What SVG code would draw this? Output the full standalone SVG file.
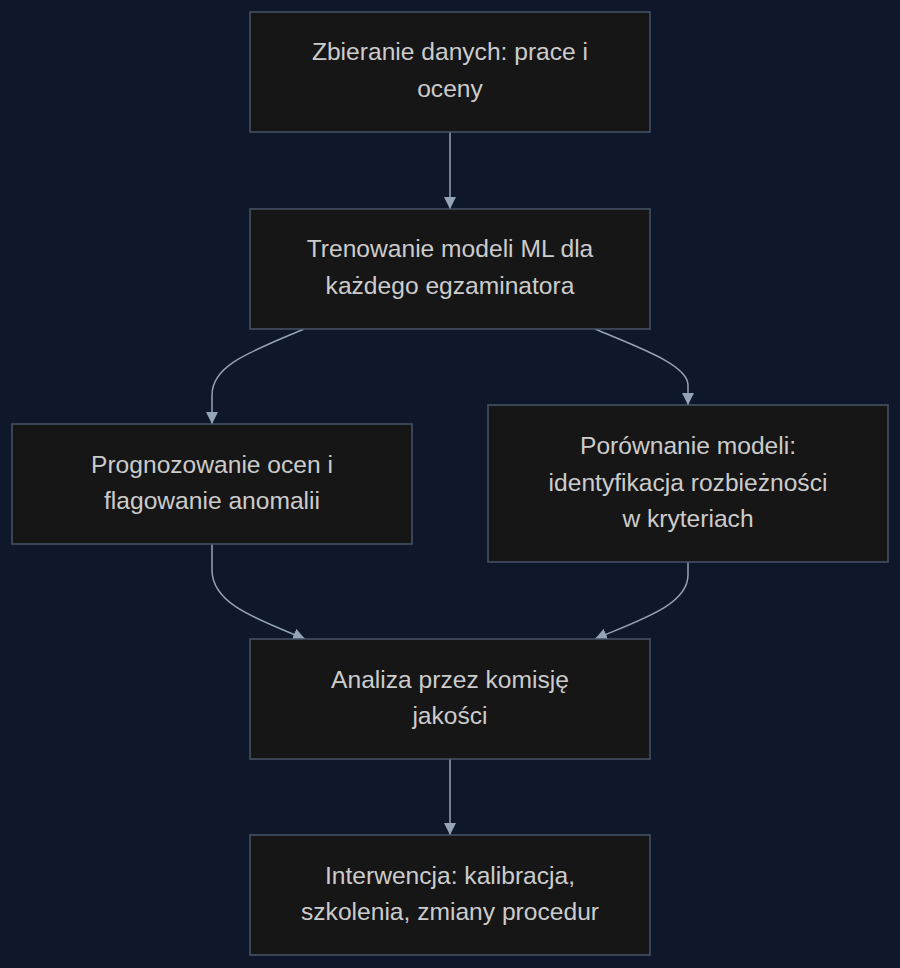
<svg xmlns="http://www.w3.org/2000/svg" width="900" height="968" viewBox="0 0 900 968">
<style>
.node rect{fill:#161616;stroke:#475569;stroke-width:1.5}
.node text{font-family:"Liberation Sans",Arial,sans-serif;font-size:24.6px;fill:#cccccc;text-anchor:middle}
.edges path{fill:none;stroke:#94a3b8;stroke-width:1.5}
</style>
<defs>
<marker id="arr" viewBox="0 0 10 10" refX="10" refY="5" markerWidth="12" markerHeight="12" markerUnits="userSpaceOnUse" orient="auto">
<path d="M0,0 L10,5 L0,10 z" fill="#94a3b8"/>
</marker>
</defs>
<rect width="900" height="968" fill="#0f172a"/>
<g class="edges">
<path d="M450,132 L450,209" marker-end="url(#arr)"/>
<path d="M304,329 C250,352 212,365 212,395 L212,424" marker-end="url(#arr)"/>
<path d="M595,329 C640,348 688,365 688,385 L688,405" marker-end="url(#arr)"/>
<path d="M212,544 L212,570 C212,605 260,620 305,639" marker-end="url(#arr)"/>
<path d="M688,562 L688,575 C688,605 640,620 595,639" marker-end="url(#arr)"/>
<path d="M450,759 L450,835" marker-end="url(#arr)"/>
</g>
<g id="n1" class="node"><rect x="250" y="12" width="400" height="120"/><text x="450" y="60">Zbieranie danych: prace i</text><text x="450" y="97">oceny</text></g>
<g id="n2" class="node"><rect x="250" y="209" width="400" height="120"/><text x="450" y="257">Trenowanie modeli ML dla</text><text x="450" y="294">każdego egzaminatora</text></g>
<g id="n3" class="node"><rect x="12" y="424" width="400" height="120"/><text x="212" y="473">Prognozowanie ocen i</text><text x="212" y="509">flagowanie anomalii</text></g>
<g id="n4" class="node"><rect x="488" y="405" width="400" height="157"/><text x="688" y="454">Porównanie modeli:</text><text x="688" y="491">identyfikacja rozbieżności</text><text x="688" y="527">w kryteriach</text></g>
<g id="n5" class="node"><rect x="250" y="639" width="400" height="120"/><text x="450" y="688">Analiza przez komisję</text><text x="450" y="724">jakości</text></g>
<g id="n6" class="node"><rect x="250" y="835" width="400" height="120"/><text x="450" y="884">Interwencja: kalibracja,</text><text x="450" y="920">szkolenia, zmiany procedur</text></g>
</svg>
